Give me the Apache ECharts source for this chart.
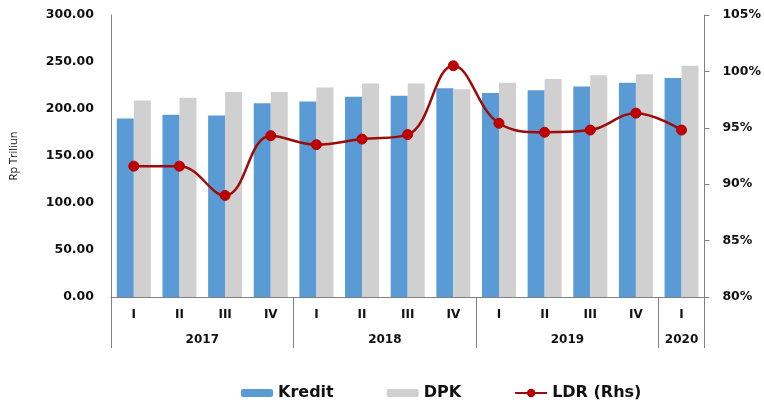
<!DOCTYPE html>
<html>
<head>
<meta charset="utf-8">
<script src="https://cdn.jsdelivr.net/npm/echarts@6/dist/echarts.min.js"></script>
<style>
  html, body { margin: 0; padding: 0; background: #fff; }
  #chart { width: 764px; height: 403px; }
</style>
</head>
<body>
<div id="chart"></div>
<script>
// quarters on the x axis, years below them
const quarters = ["I", "II", "III", "IV", "I", "II", "III", "IV", "I", "II", "III", "IV", "I"]
const years = ["2017", "2018", "2019", "2020"]
// half-quarter slots where the year labels / separators sit
const yearLabelSlots = [4, 12, 20, 25]
const yearSepSlots = [0, 8, 16, 24, 26]

// Rp Triliun
const kredit = [190, 194, 193, 206, 208, 213, 214, 222, 217, 220, 224, 228, 233]
const dpk = [209, 212, 218, 218, 223, 227, 227, 221, 228, 232, 236, 237, 246]
// LDR in %
const ldr = [91.6, 91.6, 89.0, 94.3, 93.5, 94.0, 94.4, 100.5, 95.4, 94.6, 94.8, 96.3, 94.8]

const yearAxisData = []
for (let i = 0; i <= 26; i++) {
  const k = yearLabelSlots.indexOf(i)
  yearAxisData.push(k >= 0 ? years[k] : "")
}

const font = "DejaVu Sans"
const chart = echarts.init(document.getElementById("chart"))
chart.setOption({
  animation: false,
  textStyle: { fontFamily: font },
  grid: { left: 109, right: 59, top: 15, bottom: 106 },
  legend: {
    left: 236,
    top: 380,
    itemWidth: 32,
    itemHeight: 8,
    itemGap: 53,
    textStyle: { fontFamily: font, fontSize: 16, fontWeight: "bold", color: "#111" },
    data: ["Kredit", "DPK", "LDR (Rhs)"]
  },
  xAxis: [
    {
      type: "category",
      data: quarters,
      axisLine: { lineStyle: { color: "#808080", width: 1 } },
      axisTick: { show: false },
      axisLabel: { interval: 0, margin: 12, color: "#111", fontWeight: "bold", fontSize: 12, fontFamily: font }
    },
    {
      type: "category",
      data: yearAxisData,
      position: "bottom",
      boundaryGap: false,
      axisLine: { show: false },
      axisTick: {
        show: true,
        length: 51,
        interval: (i) => yearSepSlots.indexOf(i) >= 0,
        lineStyle: { color: "#808080", width: 1 }
      },
      axisLabel: {
        interval: (i) => yearLabelSlots.indexOf(i) >= 0,
        margin: 37,
        color: "#111",
        fontWeight: "bold",
        fontSize: 12,
        fontFamily: font
      }
    }
  ],
  yAxis: [
    {
      type: "value",
      min: 0,
      max: 300,
      interval: 50,
      name: "Rp Triliun",
      nameLocation: "middle",
      nameRotate: 90,
      nameGap: 92,
      nameTextStyle: { fontFamily: "Open Sans", fontSize: 11, color: "#111" },
      axisLine: { show: true, lineStyle: { color: "#808080" } },
      axisTick: { show: false },
      splitLine: { show: false },
      axisLabel: {
        margin: 17,
        color: "#111",
        fontWeight: "bold",
        fontSize: 12.5,
        fontFamily: font,
        formatter: (v) => v.toFixed(2)
      }
    },
    {
      type: "value",
      min: 80,
      max: 105,
      interval: 5,
      position: "right",
      axisLine: { show: true, lineStyle: { color: "#808080" } },
      axisTick: { show: true, length: 5, lineStyle: { color: "#808080" } },
      splitLine: { show: false },
      axisLabel: {
        margin: 18,
        color: "#111",
        fontWeight: "bold",
        fontSize: 12.5,
        fontFamily: font,
        formatter: "{value}%"
      }
    }
  ],
  series: [
    {
      name: "Kredit",
      type: "bar",
      barWidth: 17,
      barGap: "0%",
      itemStyle: { color: "#5B9BD5" },
      data: kredit
    },
    {
      name: "DPK",
      type: "bar",
      barWidth: 17,
      barGap: "0%",
      itemStyle: { color: "#D0D0D0" },
      data: dpk
    },
    {
      name: "LDR (Rhs)",
      type: "line",
      yAxisIndex: 1,
      smooth: 0.4,
      symbol: "circle",
      symbolSize: 10,
      lineStyle: { color: "#9E0B0B", width: 2.5 },
      itemStyle: { color: "#C00000", borderColor: "#B00000", borderWidth: 1 },
      data: ldr
    }
  ]
})
</script>
</body>
</html>
